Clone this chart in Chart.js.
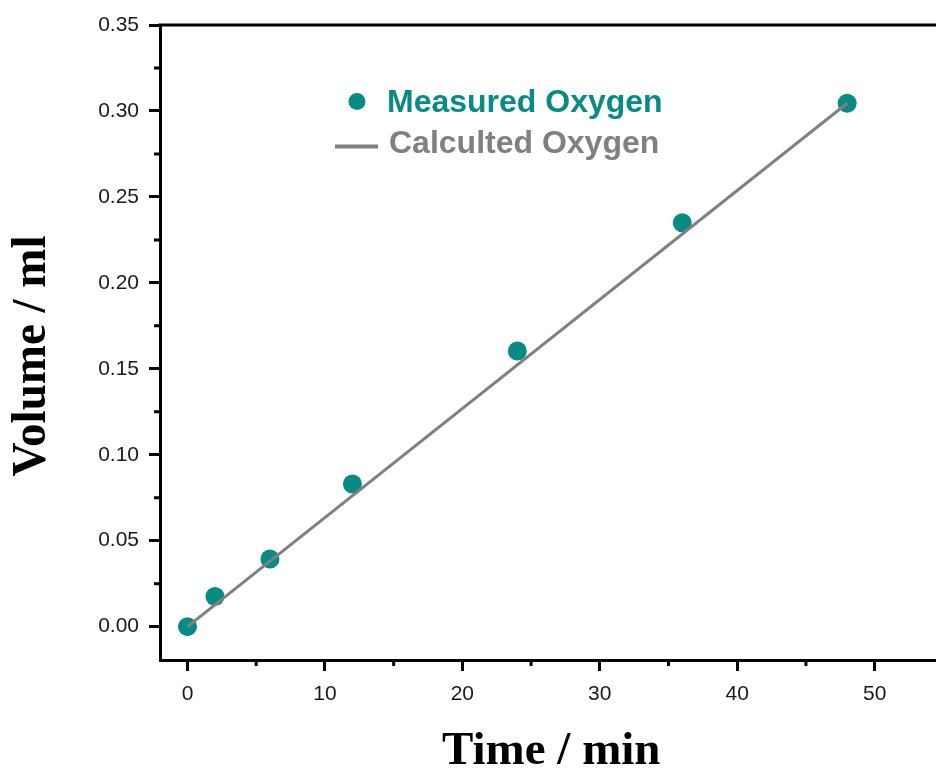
<!DOCTYPE html>
<html>
<head>
<meta charset="utf-8">
<script src="https://cdn.jsdelivr.net/npm/chart.js@4/dist/chart.umd.min.js"></script>
<style>
  html, body { margin: 0; padding: 0; background: #fff; overflow: hidden; }
</style>
</head>
<body>
<canvas id="chart" width="946" height="770"></canvas>
<script>
// measured points
const measuredTime = [0, 2, 6, 12, 24, 36, 48];
const measuredVolume = [0, 0.0175, 0.0394, 0.083, 0.1604, 0.2350, 0.3045];
// calculated straight line
const calcTime = [0, 48];
const calcVolume = [0, 0.3045];
// axis ticks
const xTicks = [0, 10, 20, 30, 40, 50];
const xMinorTicks = [5, 15, 25, 35, 45];
const yTicks = [0, 0.05, 0.10, 0.15, 0.20, 0.25, 0.30, 0.35];
const yMinorTicks = [0.025, 0.075, 0.125, 0.175, 0.225, 0.275, 0.325];
const xTitle = 'Time / min';
const yTitle = 'Volume / ml';

const TEAL = '#0a8a84';
const GREY = '#808080';
const TITLE_FONT = 'bold 47px "Liberation Serif", "Times New Roman", serif';

// minor ticks, top frame line, axis titles and the in-plot legend
const decorPlugin = {
  id: 'decor',
  afterDraw(chart) {
    const ctx = chart.ctx;
    const area = chart.chartArea;
    const xs = chart.scales.x, ys = chart.scales.y;
    ctx.save();
    ctx.strokeStyle = '#000';
    ctx.lineWidth = 3;
    ctx.beginPath();
    ctx.moveTo(area.left - 1.5, area.top);
    ctx.lineTo(area.right, area.top);
    ctx.stroke();
    ctx.beginPath();
    xMinorTicks.forEach(v => {
      const px = xs.getPixelForValue(v);
      ctx.moveTo(px, area.bottom);
      ctx.lineTo(px, area.bottom + 6);
    });
    yMinorTicks.forEach(v => {
      const py = ys.getPixelForValue(v);
      ctx.moveTo(area.left, py);
      ctx.lineTo(area.left - 6, py);
    });
    ctx.stroke();

    // axis titles
    ctx.fillStyle = '#000';
    ctx.font = TITLE_FONT;
    ctx.textAlign = 'center';
    ctx.textBaseline = 'alphabetic';
    ctx.fillText(xTitle, (area.left + area.right) / 2 + 3, 764);
    ctx.save();
    ctx.translate(45, 356);
    ctx.rotate(-Math.PI / 2);
    ctx.scale(1, 1.05);
    ctx.fillText(yTitle, 0, 0);
    ctx.restore();

    // legend
    const ds = chart.data.datasets;
    ctx.textAlign = 'left';
    ctx.font = 'bold 32px "Liberation Sans", Arial, sans-serif';
    ctx.fillStyle = TEAL;
    ctx.beginPath();
    ctx.arc(357, 101.5, 8.5, 0, Math.PI * 2);
    ctx.fill();
    ctx.fillText(ds[0].label, 387, 112);
    ctx.strokeStyle = GREY;
    ctx.lineWidth = 4;
    ctx.beginPath();
    ctx.moveTo(335, 146.5);
    ctx.lineTo(378, 146.5);
    ctx.stroke();
    ctx.fillStyle = GREY;
    ctx.fillText(ds[1].label, 389, 153);
    ctx.restore();
  }
};

new Chart(document.getElementById('chart'), {
  type: 'scatter',
  data: {
    datasets: [
      {
        label: 'Measured Oxygen',
        data: measuredTime.map((t, i) => ({ x: t, y: measuredVolume[i] })),
        backgroundColor: TEAL,
        borderColor: TEAL,
        pointRadius: 9.5,
        pointHoverRadius: 9.5,
        borderWidth: 0,
        order: 2
      },
      {
        label: 'Calculted Oxygen',
        type: 'line',
        data: calcTime.map((t, i) => ({ x: t, y: calcVolume[i] })),
        borderColor: GREY,
        borderWidth: 3,
        pointRadius: 0,
        fill: false,
        order: 1
      }
    ]
  },
  options: {
    responsive: false,
    animation: false,
    layout: { padding: { left: 0, right: 0, top: 25, bottom: 0 } },
    plugins: { legend: { display: false }, tooltip: { enabled: false } },
    scales: {
      x: {
        type: 'linear',
        min: -2,
        max: 54.5,
        afterBuildTicks: s => { s.ticks = xTicks.map(v => ({ value: v })); },
        afterFit: s => { s.height = 110; },
        border: { display: true, color: '#000', width: 3 },
        grid: { drawOnChartArea: false, drawTicks: true, tickLength: 11, tickWidth: 3, tickColor: '#000' },
        ticks: {
          color: '#1a1a1a',
          padding: 11,
          maxRotation: 0,
          font: { family: '"Liberation Sans", Arial, sans-serif', size: 21 },
          callback: v => String(v)
        }
      },
      y: {
        type: 'linear',
        min: -0.0194,
        max: 0.35,
        afterBuildTicks: s => { s.ticks = yTicks.map(v => ({ value: v })); },
        afterFit: s => { s.width = 160; },
        border: { display: true, color: '#000', width: 3 },
        grid: { drawOnChartArea: false, drawTicks: true, tickLength: 11, tickWidth: 3, tickColor: '#000' },
        ticks: {
          color: '#1a1a1a',
          padding: 10,
          font: { family: '"Liberation Sans", Arial, sans-serif', size: 21 },
          callback: v => v.toFixed(2)
        }
      }
    }
  },
  plugins: [decorPlugin]
});
</script>
</body>
</html>
